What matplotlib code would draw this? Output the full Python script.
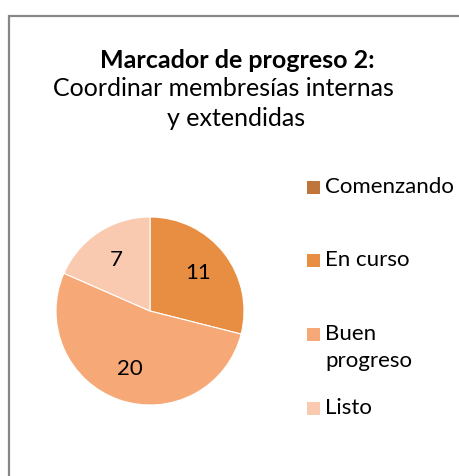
import matplotlib
matplotlib.use("Agg")
import matplotlib.pyplot as plt
from matplotlib.patches import Rectangle

categories = ["Comenzando", "En curso", "Buen progreso", "Listo"]
values = [0, 11, 20, 7]
legend_labels = ["Comenzando", "En curso", "Buen\nprogreso", "Listo"]
colors = ["#C0753A", "#E88E42", "#F6A977", "#F9CAB0"]
title_bold = "Marcador de progreso 2:"
title_line2 = "Coordinar membresías internas"
title_line3 = "y extendidas"

W, H = 459, 476
FONT = "Lato"
FS = 16
FS_T = 18

fig = plt.figure(figsize=(W / 100, H / 100), dpi=100)
fig.patch.set_facecolor("white")

def fx(px):
    return px / W

def fy(py):
    return 1 - py / H

# outer frame (right/bottom edges fall outside the image)
fig.patches.append(Rectangle((fx(9), fy(H + 10)), fx(W + 10) - fx(9), fy(16) - fy(H + 10),
                             transform=fig.transFigure, fill=False,
                             edgecolor="#878787", linewidth=1.6))

# title
fig.text(fx(237.5), fy(61), title_bold, ha="center", va="center",
         fontsize=FS_T, fontweight="bold", family=FONT)
fig.text(fx(223.5), fy(89), title_line2, ha="center", va="center",
         fontsize=FS_T, family=FONT)
fig.text(fx(236), fy(119), title_line3, ha="center", va="center",
         fontsize=FS_T, family=FONT)

# pie
cx, cy, r = 150, 311, 94
ax = fig.add_axes([fx(cx - r), fy(cy + r), (2 * r) / W, (2 * r) / H])
total = sum(values)

def fmt(p):
    v = round(p * total / 100)
    return f"{v:d}" if v > 0 else ""

ax.pie(values, colors=colors, startangle=90, counterclock=False,
       autopct=fmt, pctdistance=0.65,
       wedgeprops=dict(edgecolor="white", linewidth=0.8),
       textprops=dict(fontsize=FS, family=FONT, color="black"))
ax.set_xlim(-1, 1)
ax.set_ylim(-1, 1)
ax.set_aspect("equal")
ax.axis("off")

# legend
leg_y = [187, 260, 334, 408]
sq = 13
for lab, col, y in zip(legend_labels, colors, leg_y):
    fig.patches.append(Rectangle((fx(307), fy(y + sq / 2)), sq / W, sq / H,
                                 transform=fig.transFigure, facecolor=col, edgecolor="none"))
    fig.text(fx(325), fy(y - 10), lab, ha="left", va="top",
             fontsize=FS, family=FONT, linespacing=1.45)

fig.savefig("out.png", dpi=100)
